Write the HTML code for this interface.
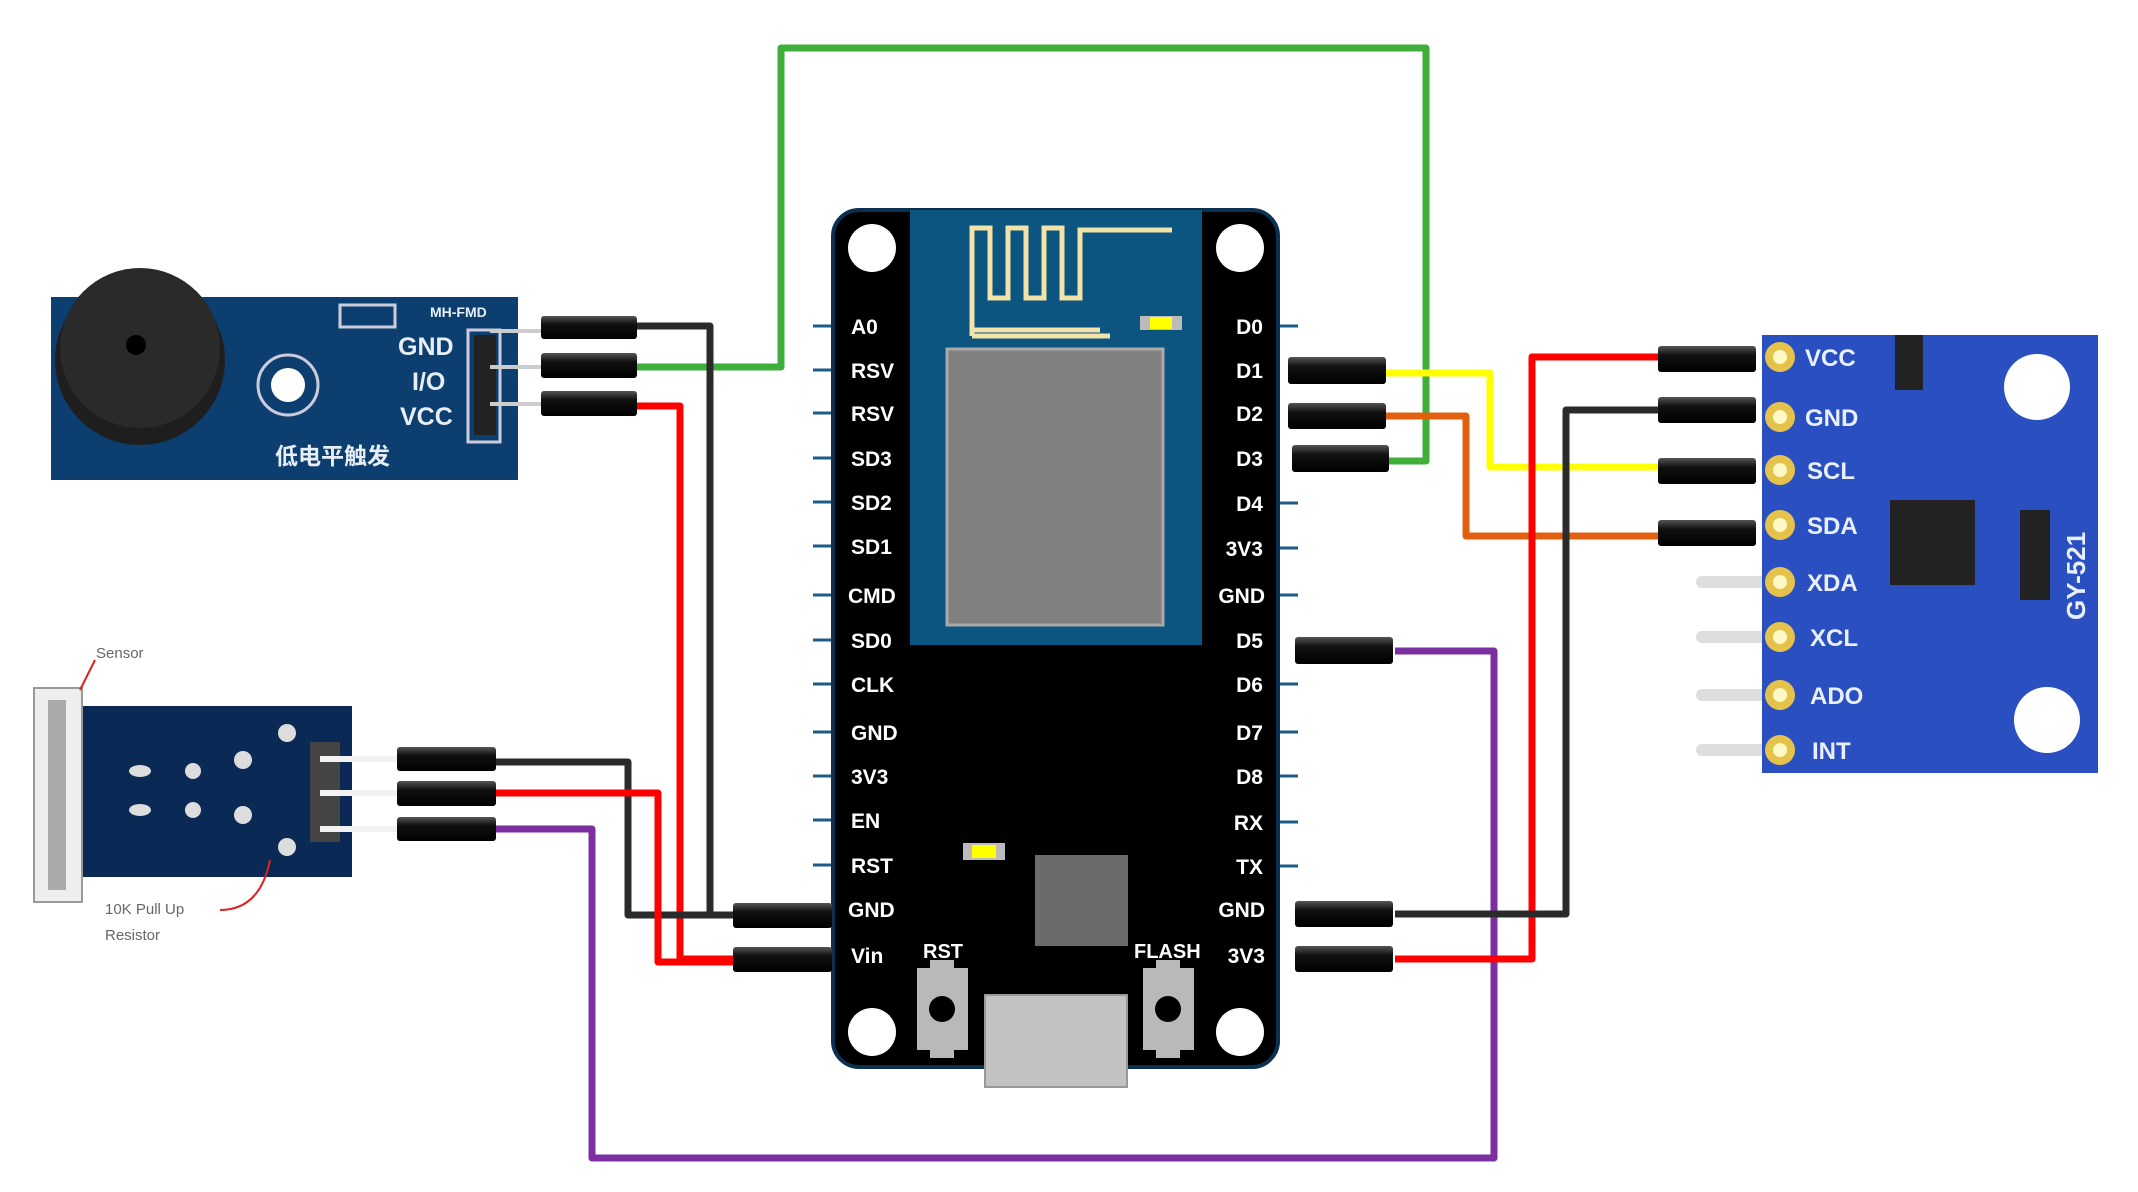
<!DOCTYPE html>
<html><head><meta charset="utf-8"><style>
html,body{margin:0;padding:0;background:#fff;}
svg{display:block;}
text{font-family:"Liberation Sans","Noto Sans CJK SC",sans-serif;font-weight:bold;}
</style></head><body>
<svg width="2138" height="1192" viewBox="0 0 2138 1192" xmlns="http://www.w3.org/2000/svg">
<defs>
<linearGradient id="conn" x1="0" y1="0" x2="0" y2="1"><stop offset="0" stop-color="#555"/><stop offset="0.35" stop-color="#111"/><stop offset="1" stop-color="#000"/></linearGradient>
</defs>
<!-- wires -->
<g fill="none" stroke-width="7" stroke-linejoin="round">
<polyline stroke="#3fae3a" points="637,367 781,367 781,48 1426,48 1426,461 1389,461"/>
<polyline stroke="#2b2b2b" points="637,326 710,326 710,915 733,915"/>
<polyline stroke="#f00" points="637,406 680,406 680,959 733,959"/>
<polyline stroke="#2b2b2b" points="496,762 628,762 628,915 733,915"/>
<polyline stroke="#f00" points="496,793 658,793 658,962 733,962"/>
<polyline stroke="#7b2fa0" points="496,829 592,829 592,1158 1494,1158 1494,651 1395,651"/>
<polyline stroke="#ff0" points="1386,373 1490,373 1490,467 1660,467"/>
<polyline stroke="#e06010" points="1386,416 1466,416 1466,536 1660,536"/>
<polyline stroke="#f00" points="1395,959 1532,959 1532,357 1660,357"/>
<polyline stroke="#2b2b2b" points="1395,914 1566,914 1566,410 1660,410"/>
</g>
<!-- NodeMCU board -->
<g>
<g stroke="#1e5a8a" stroke-width="3">
<line x1="813" y1="326" x2="833" y2="326"/><line x1="813" y1="370" x2="833" y2="370"/><line x1="813" y1="413" x2="833" y2="413"/><line x1="813" y1="458" x2="833" y2="458"/><line x1="813" y1="502" x2="833" y2="502"/><line x1="813" y1="546" x2="833" y2="546"/><line x1="813" y1="595" x2="833" y2="595"/><line x1="813" y1="640" x2="833" y2="640"/><line x1="813" y1="684" x2="833" y2="684"/><line x1="813" y1="732" x2="833" y2="732"/><line x1="813" y1="776" x2="833" y2="776"/><line x1="813" y1="820" x2="833" y2="820"/><line x1="813" y1="865" x2="833" y2="865"/>
<line x1="1278" y1="326" x2="1298" y2="326"/><line x1="1278" y1="503" x2="1298" y2="503"/><line x1="1278" y1="548" x2="1298" y2="548"/><line x1="1278" y1="595" x2="1298" y2="595"/><line x1="1278" y1="684" x2="1298" y2="684"/><line x1="1278" y1="732" x2="1298" y2="732"/><line x1="1278" y1="776" x2="1298" y2="776"/><line x1="1278" y1="822" x2="1298" y2="822"/><line x1="1278" y1="866" x2="1298" y2="866"/>
</g>
<rect x="833" y="210" width="445" height="857" rx="26" fill="#000" stroke="#0b3050" stroke-width="4"/>
<rect x="910" y="210" width="292" height="435" fill="#0b5580"/>
<polyline fill="none" stroke="#f3e3a8" stroke-width="5" points="972,336 1110,336 M972,336" />
<polyline fill="none" stroke="#f3e3a8" stroke-width="5" points="972,336 972,228 990,228 990,298 1008,298 1008,228 1026,228 1026,298 1044,298 1044,228 1062,228 1062,298 1080,298 1080,230 1172,230"/>
<line x1="972" y1="330" x2="1100" y2="330" stroke="#f3e3a8" stroke-width="5"/>
<rect x="1140" y="316" width="42" height="14" fill="#bbb"/><rect x="1150" y="317" width="22" height="12" fill="#ff0"/>
<rect x="947" y="349" width="216" height="276" fill="#808080" stroke="#aaa" stroke-width="3"/>
<rect x="963" y="843" width="42" height="17" fill="#bbb"/><rect x="972" y="845" width="24" height="13" fill="#ff0"/>
<rect x="1035" y="855" width="93" height="91" fill="#6b6b6b"/>
<rect x="917" y="968" width="51" height="82" fill="#b9b9b9"/><circle cx="942" cy="1009" r="13" fill="#000"/><rect x="930" y="960" width="24" height="8" fill="#b9b9b9"/><rect x="930" y="1050" width="24" height="8" fill="#b9b9b9"/>
<rect x="1143" y="968" width="51" height="82" fill="#b9b9b9"/><circle cx="1168" cy="1009" r="13" fill="#000"/><rect x="1156" y="960" width="24" height="8" fill="#b9b9b9"/><rect x="1156" y="1050" width="24" height="8" fill="#b9b9b9"/>
<rect x="985" y="995" width="142" height="92" fill="#c2c2c2" stroke="#999" stroke-width="2"/>
<circle cx="872" cy="248" r="24" fill="#fff"/><circle cx="1240" cy="248" r="24" fill="#fff"/><circle cx="872" cy="1032" r="24" fill="#fff"/><circle cx="1240" cy="1032" r="24" fill="#fff"/>
<g fill="#fff" font-size="21">
<text x="851" y="334">A0</text><text x="851" y="378">RSV</text><text x="851" y="421">RSV</text><text x="851" y="466">SD3</text><text x="851" y="510">SD2</text><text x="851" y="554">SD1</text><text x="848" y="603">CMD</text><text x="851" y="648">SD0</text><text x="851" y="692">CLK</text><text x="851" y="740">GND</text><text x="851" y="784">3V3</text><text x="851" y="828">EN</text><text x="851" y="873">RST</text><text x="848" y="917">GND</text><text x="851" y="963">Vin</text>
<g text-anchor="end"><text x="1263" y="334">D0</text><text x="1263" y="378">D1</text><text x="1263" y="421">D2</text><text x="1263" y="466">D3</text><text x="1263" y="511">D4</text><text x="1263" y="556">3V3</text><text x="1265" y="603">GND</text><text x="1263" y="648">D5</text><text x="1263" y="692">D6</text><text x="1263" y="740">D7</text><text x="1263" y="784">D8</text><text x="1263" y="830">RX</text><text x="1263" y="874">TX</text><text x="1265" y="917">GND</text><text x="1265" y="963">3V3</text></g>
<text x="923" y="958" font-size="20">RST</text><text x="1134" y="958" font-size="20">FLASH</text>
</g>
</g>
<!-- connectors -->
<g fill="url(#conn)">
<rect x="733" y="903" width="99" height="25" rx="3"/><rect x="733" y="947" width="99" height="25" rx="3"/>
<rect x="1288" y="357" width="98" height="27" rx="3"/><rect x="1288" y="403" width="98" height="26" rx="3"/><rect x="1292" y="445" width="97" height="27" rx="3"/><rect x="1295" y="637" width="98" height="27" rx="3"/><rect x="1295" y="901" width="98" height="26" rx="3"/><rect x="1295" y="946" width="98" height="26" rx="3"/>
<rect x="541" y="316" width="96" height="23" rx="3"/><rect x="541" y="353" width="96" height="25" rx="3"/><rect x="541" y="391" width="96" height="25" rx="3"/>
<rect x="397" y="747" width="99" height="24" rx="3"/><rect x="397" y="781" width="99" height="25" rx="3"/><rect x="397" y="817" width="99" height="24" rx="3"/>
<rect x="1658" y="346" width="98" height="26" rx="3"/><rect x="1658" y="397" width="98" height="26" rx="3"/><rect x="1658" y="458" width="98" height="26" rx="3"/><rect x="1658" y="520" width="98" height="26" rx="3"/>
</g>
<!-- buzzer module -->
<g>
<rect x="51" y="297" width="467" height="183" fill="#0c3f70"/>
<circle cx="140" cy="360" r="85" fill="#1e1e1e"/><circle cx="140" cy="348" r="80" fill="#2a2a2a"/><circle cx="136" cy="345" r="10" fill="#000"/>
<circle cx="288" cy="385" r="30" fill="none" stroke="#ccd" stroke-width="3"/><circle cx="288" cy="385" r="17" fill="#fff"/>
<rect x="340" y="305" width="55" height="22" fill="none" stroke="#ccd" stroke-width="3"/>
<rect x="468" y="330" width="32" height="112" fill="none" stroke="#ccd" stroke-width="3"/>
<rect x="474" y="335" width="22" height="100" fill="#222"/>
<g stroke="#ccc" stroke-width="4"><line x1="490" y1="331" x2="541" y2="331"/><line x1="490" y1="367" x2="541" y2="367"/><line x1="490" y1="404" x2="541" y2="404"/></g>
<g fill="#e8eef5"><text x="398" y="355" font-size="25">GND</text><text x="412" y="390" font-size="25">I/O</text><text x="400" y="425" font-size="25">VCC</text><text x="430" y="317" font-size="14">MH-FMD</text><text x="275" y="464" font-size="23">低电平触发</text></g>
</g>
<!-- sensor module -->
<g>
<rect x="75" y="706" width="277" height="171" fill="#0a2a55"/>
<rect x="34" y="688" width="48" height="214" fill="#eee" stroke="#999" stroke-width="2"/>
<rect x="48" y="700" width="18" height="190" fill="#aaa"/>
<g fill="#ddd"><ellipse cx="140" cy="771" rx="11" ry="6"/><ellipse cx="140" cy="810" rx="11" ry="6"/><circle cx="193" cy="771" r="8"/><circle cx="193" cy="810" r="8"/><circle cx="243" cy="760" r="9"/><circle cx="243" cy="815" r="9"/><circle cx="287" cy="733" r="9"/><circle cx="287" cy="847" r="9"/></g>
<rect x="310" y="742" width="30" height="100" fill="#444"/>
<g stroke="#f2f2f2" stroke-width="6"><line x1="320" y1="759" x2="397" y2="759"/><line x1="320" y1="793" x2="397" y2="793"/><line x1="320" y1="829" x2="397" y2="829"/></g>
<path d="M80,690 Q90,670 95,660" stroke="#d22" stroke-width="2" fill="none"/>
<text x="96" y="658" font-size="15" font-weight="normal" fill="#666" style="font-weight:normal">Sensor</text>
<path d="M220,910 Q260,910 270,860" stroke="#d22" stroke-width="2" fill="none"/>
<text x="105" y="914" font-size="15" fill="#666" style="font-weight:normal">10K Pull Up</text>
<text x="105" y="940" font-size="15" fill="#666" style="font-weight:normal">Resistor</text>
</g>
<!-- GY-521 -->
<g>
<g stroke="#ddd" stroke-width="12" stroke-linecap="round"><line x1="1702" y1="582" x2="1775" y2="582"/><line x1="1702" y1="637" x2="1775" y2="637"/><line x1="1702" y1="695" x2="1775" y2="695"/><line x1="1702" y1="750" x2="1775" y2="750"/></g>
<rect x="1762" y="335" width="336" height="438" fill="#2a4fc0"/>
<circle cx="2037" cy="387" r="33" fill="#fff"/><circle cx="2047" cy="720" r="33" fill="#fff"/>
<rect x="1890" y="500" width="85" height="85" fill="#222"/>
<rect x="2020" y="510" width="30" height="90" fill="#222"/>
<rect x="1895" y="335" width="28" height="55" fill="#222"/>
<g fill="#e5c24a"><circle cx="1780" cy="357" r="15"/><circle cx="1780" cy="417" r="15"/><circle cx="1780" cy="470" r="15"/><circle cx="1780" cy="525" r="15"/><circle cx="1780" cy="582" r="15"/><circle cx="1780" cy="637" r="15"/><circle cx="1780" cy="695" r="15"/><circle cx="1780" cy="750" r="15"/></g>
<g fill="#fff9c8"><circle cx="1780" cy="357" r="7"/><circle cx="1780" cy="417" r="7"/><circle cx="1780" cy="470" r="7"/><circle cx="1780" cy="525" r="7"/><circle cx="1780" cy="582" r="7"/><circle cx="1780" cy="637" r="7"/><circle cx="1780" cy="695" r="7"/><circle cx="1780" cy="750" r="7"/></g>
<g fill="#e8efff" font-size="24"><text x="1805" y="366">VCC</text><text x="1805" y="426">GND</text><text x="1807" y="479">SCL</text><text x="1807" y="534">SDA</text><text x="1807" y="591">XDA</text><text x="1810" y="646">XCL</text><text x="1810" y="704">ADO</text><text x="1812" y="759">INT</text>
<text x="0" y="0" font-size="26" transform="translate(2085,620) rotate(-90)">GY-521</text></g>
</g>
</svg>
</body></html>
